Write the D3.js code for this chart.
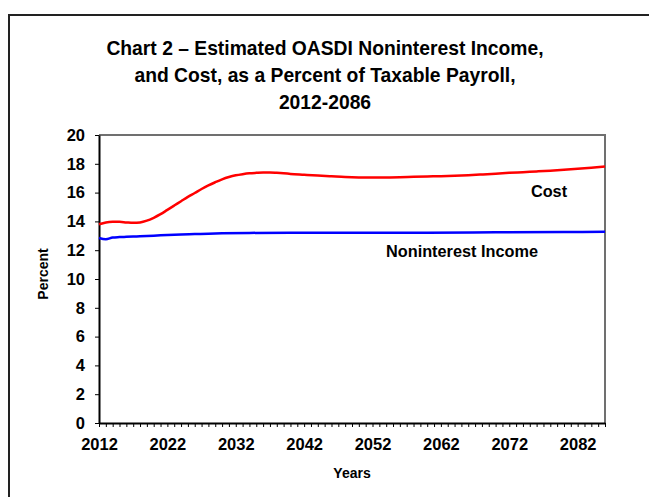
<!DOCTYPE html>
<html>
<head>
<meta charset="utf-8">
<script src="https://cdn.jsdelivr.net/npm/d3@7"></script>
<style>
	body { margin: 0; background: #fff; }
	svg text { font-family: "Liberation Sans", Arial, sans-serif; font-weight: bold; fill: #000; }
</style>
</head>
<body>
<div id="chart"></div>
<script>
// values (percent of taxable payroll)
var costYears = [2012,2013,2014,2015,2016,2017,2018,2019,2020,2021,2022,2023,2024,2025,2026,2027,2028,2029,2030,2031,2032,2033,2034,2035,2036,2037,2038,2039,2040,2042,2044,2046,2048,2050,2052,2054,2056,2058,2060,2062,2064,2066,2068,2070,2072,2074,2076,2078,2080,2082,2084,2086];
var costValues = [13.80,13.93,13.97,13.97,13.93,13.90,13.93,14.05,14.25,14.50,14.80,15.10,15.40,15.70,15.97,16.25,16.50,16.72,16.92,17.08,17.20,17.28,17.34,17.37,17.39,17.39,17.37,17.34,17.30,17.24,17.18,17.13,17.08,17.05,17.04,17.05,17.07,17.10,17.12,17.14,17.17,17.21,17.26,17.31,17.37,17.42,17.47,17.52,17.58,17.65,17.73,17.82];

var incomeYears = [2012,2013,2014,2015,2016,2017,2018,2020,2022,2024,2026,2028,2030,2034,2040,2050,2060,2070,2080,2086];
var incomeValues = [12.85,12.76,12.88,12.91,12.93,12.95,12.97,13.01,13.05,13.09,13.12,13.15,13.17,13.20,13.22,13.21,13.22,13.24,13.26,13.28];

var titleLines = ["Chart 2 \u2013 Estimated OASDI Noninterest Income,", "and Cost, as a Percent of Taxable Payroll,", "2012-2086"];
var yTicks = [0,2,4,6,8,10,12,14,16,18,20];
var xLabelYears = [2012,2022,2032,2042,2052,2062,2072,2082];

var W = 649, H = 497;
var svg = d3.select("#chart").append("svg").attr("width", W).attr("height", H);

// outer frame (runs off the right/bottom edge)
svg.append("path")
	.attr("d", "M9," + (H + 5) + "V15H" + (W + 5))
	.attr("fill", "none").attr("stroke", "#222").attr("stroke-width", 2);

var x = d3.scaleLinear().domain([2012, 2086]).range([99, 605]);
var y = d3.scaleLinear().domain([0, 20]).range([423, 135]);

// title
svg.selectAll(".title").data(titleLines).enter().append("text")
	.attr("class", "title")
	.attr("x", 325).attr("y", function(d, i){ return 55 + i * 27; })
	.attr("text-anchor", "middle").style("font-size", "19.3px")
	.text(function(d){ return d; });

// plot box: gray top and right
svg.append("path")
	.attr("d", "M" + x.range()[0] + "," + y(20) + "H" + x(2086) + "V" + y(0))
	.attr("fill", "none").attr("stroke", "#707070").attr("stroke-width", 2);

var yAxis = d3.axisLeft(y).tickValues(yTicks).tickSize(4).tickSizeOuter(0).tickPadding(10);
var gy = svg.append("g").attr("transform", "translate(" + x(2012) + ",0)").call(yAxis);
gy.select(".domain").attr("stroke", "#000").attr("stroke-width", 2);
gy.selectAll("text").style("font-size", "16.5px");

var xAxis = d3.axisBottom(x).tickValues(d3.range(2012, 2087)).tickSize(4).tickSizeOuter(0).tickPadding(11)
	.tickFormat(function(d){ return xLabelYears.indexOf(d) >= 0 ? d : ""; });
var gx = svg.append("g").attr("transform", "translate(0," + y(0) + ")").call(xAxis);
gx.select(".domain").attr("stroke", "#000").attr("stroke-width", 2);
gx.selectAll("text").style("font-size", "16.5px");

// lines
var line = d3.line()
	.curve(d3.curveMonotoneX)
	.x(function(d){ return x(d[0]); })
	.y(function(d){ return y(d[1]); });

svg.append("path")
	.datum(d3.zip(incomeYears, incomeValues))
	.attr("d", line).attr("fill", "none").attr("stroke", "#0000ff").attr("stroke-width", 2.5);
svg.append("path")
	.datum(d3.zip(costYears, costValues))
	.attr("d", line).attr("fill", "none").attr("stroke", "#ff0000").attr("stroke-width", 2.5);

// series labels
svg.append("text").attr("x", 549).attr("y", 197).attr("text-anchor", "middle").style("font-size", "16.3px").text("Cost");
svg.append("text").attr("x", 462).attr("y", 257).attr("text-anchor", "middle").style("font-size", "16.3px").text("Noninterest Income");

// axis titles
svg.append("text").attr("x", 352).attr("y", 478).attr("text-anchor", "middle").style("font-size", "14px").text("Years");
svg.append("text").attr("transform", "translate(48,274) rotate(-90)").attr("text-anchor", "middle").style("font-size", "14px").text("Percent");
</script>
</body>
</html>
